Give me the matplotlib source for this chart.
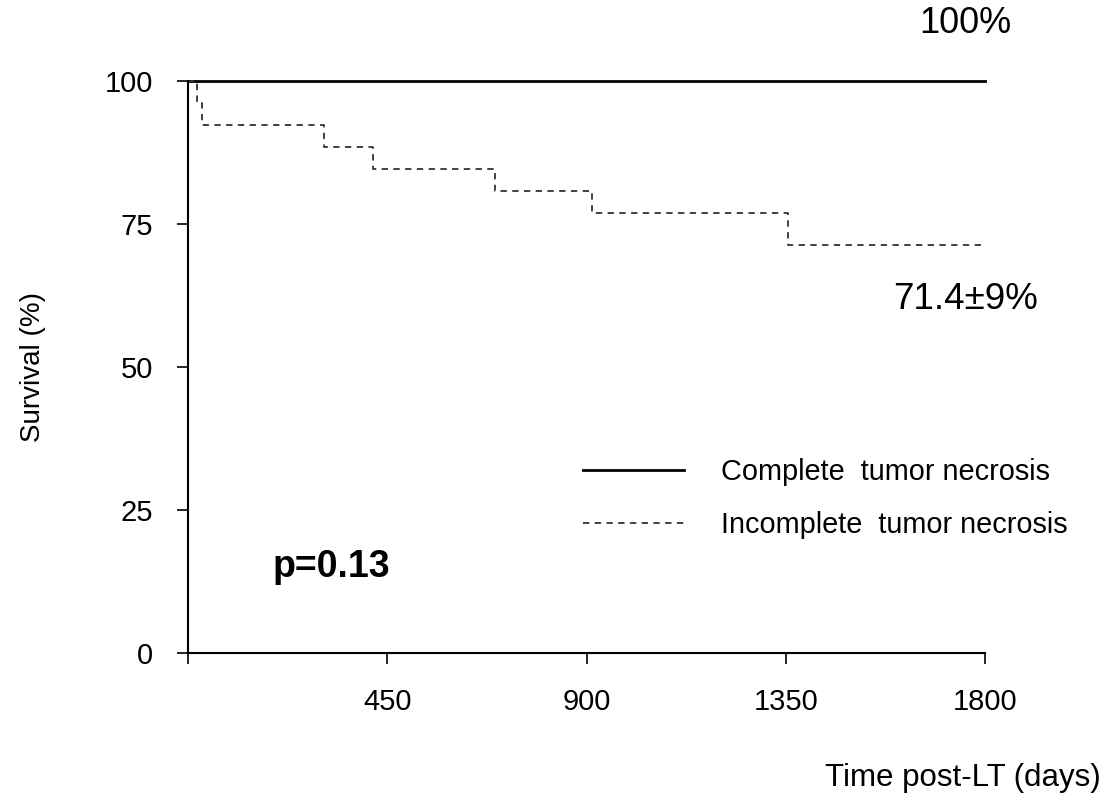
import matplotlib
matplotlib.use("Agg")
import matplotlib.pyplot as plt

plt.rcParams['font.family'] = ['Liberation Sans', 'DejaVu Sans']

# Data
complete_days = [0, 1800]
complete_surv = [100, 100]
incomplete_days = [0, 20, 32, 308, 418, 693, 912, 1354, 1800]
incomplete_surv = [100, 96.2, 92.3, 88.5, 84.6, 80.8, 76.9, 71.4, 71.4]
x_ticks = [0, 450, 900, 1350, 1800]
x_ticklabels = ["", "450", "900", "1350", "1800"]
y_ticks = [0, 25, 50, 75, 100]
labels = ["Complete  tumor necrosis", "Incomplete  tumor necrosis"]

W, H = 1105, 797
fig = plt.figure(figsize=(W / 100, H / 100), dpi=100)
ax = fig.add_axes([188 / W, 1 - 653 / H, (985 - 188) / W, (653 - 81) / H])

ax.plot(complete_days, complete_surv, color='black', lw=2.0, label=labels[0],
        drawstyle='steps-post', clip_on=False)
ax.plot(incomplete_days, incomplete_surv, color='#333333', lw=1.3,
        linestyle=(0, (3.5, 3)), label=labels[1], drawstyle='steps-post', clip_on=False)

ax.set_xlim(0, 1800)
ax.set_ylim(0, 100)
ax.set_xticks(x_ticks)
ax.set_xticklabels(x_ticklabels)
ax.set_yticks(y_ticks)
for s in ['top', 'right']:
    ax.spines[s].set_visible(False)
for s in ['left', 'bottom']:
    ax.spines[s].set_linewidth(1.5)
ax.tick_params(axis='x', direction='out', length=8, width=1.2, pad=17, labelsize=21)
ax.tick_params(axis='y', direction='out', length=8, width=1.2, pad=17, labelsize=21)

leg = ax.legend(loc='upper left', bbox_to_anchor=((583 - 188) / (985 - 188), (653 - 458) / (653 - 81)),
                frameon=False, fontsize=20.8, handlelength=3.5, handletextpad=1.28,
                labelspacing=0.87, borderpad=0, borderaxespad=0)

ax.text(192, 15, "p=0.13", fontsize=27, fontweight='bold', ha='left', va='center')
ax.text(1755, 61.8, "71.4\u00b19%", fontsize=26.5, ha='center', va='center', clip_on=False)
ax.text(1755, 110.0, "100%", fontsize=26, ha='center', va='center', clip_on=False)

fig.text(33 / W, 1 - 367 / H, "Survival (%)", rotation=90, fontsize=20, ha='center', va='center')
fig.text(1101 / W, 1 - 778 / H, "Time post-LT (days)", fontsize=22.5, ha='right', va='center')

fig.savefig("out.png", dpi=100)
